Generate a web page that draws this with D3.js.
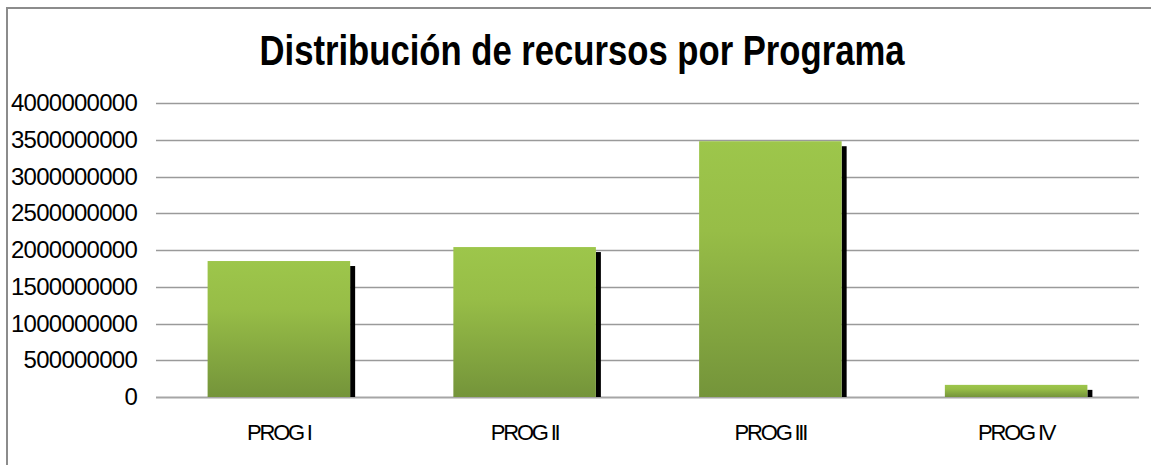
<!DOCTYPE html>
<html>
<head>
<meta charset="utf-8">
<script src="https://cdn.jsdelivr.net/npm/d3@7"></script>
<style>
  body { margin: 0; background: #fff; }
  text { font-family: "Liberation Sans", Arial, sans-serif; fill: #000; }
</style>
</head>
<body>
<div id="chart-area"></div>
<script>
// Data
var categories = ["PROG I", "PROG II", "PROG III", "PROG IV"];
var values = [1850000000, 2040000000, 3480000000, 165000000];
var yTicks = [0, 500000000, 1000000000, 1500000000, 2000000000, 2500000000, 3000000000, 3500000000, 4000000000];
var title = "Distribución de recursos por Programa";

barChart();
function barChart() {

    var W = 1151, H = 465;
    var margin = {top: 103, right: 12, bottom: 68, left: 156};
    var width = W - margin.left - margin.right,
        height = H - margin.top - margin.bottom;

    var root = d3.select("#chart-area").append("svg")
        .attr("width", W)
        .attr("height", H);

    // outer border (only top/left visible)
    root.append("rect")
        .attr("x", 7).attr("y", 8)
        .attr("width", W + 10).attr("height", H + 10)
        .attr("fill", "none")
        .attr("stroke", "#8c8c8c")
        .attr("stroke-width", 2);

    var defs = root.append("defs");
    var grad = defs.append("linearGradient")
        .attr("id", "barGrad")
        .attr("x1", 0).attr("y1", 0).attr("x2", 0).attr("y2", 1);
    grad.append("stop").attr("offset", "0%").attr("stop-color", "#9dc64b");
    grad.append("stop").attr("offset", "35%").attr("stop-color", "#97bd47");
    grad.append("stop").attr("offset", "100%").attr("stop-color", "#74943a");

    // title
    root.append("text")
        .attr("x", 582)
        .attr("y", 65)
        .attr("text-anchor", "middle")
        .attr("font-size", 42)
        .attr("font-weight", "bold")
        .attr("textLength", 645)
        .attr("lengthAdjust", "spacingAndGlyphs")
        .text(title);

    var svg = root.append("g")
        .attr("transform", "translate(" + margin.left + "," + margin.top + ")");

    // Scales
    var x = d3.scaleBand()
        .domain(categories)
        .range([0, width])
        .paddingInner(0.42)
        .paddingOuter(0.21);

    var y = d3.scaleLinear()
        .domain([0, 4000000000])
        .range([height, 0]);

    // gridlines
    svg.append("g")
        .attr("class", "grid")
        .selectAll("line")
        .data(yTicks)
        .enter().append("line")
        .attr("x1", 0)
        .attr("x2", width)
        .attr("y1", function(d) { return Math.round(y(d)) + 0.5; })
        .attr("y2", function(d) { return Math.round(y(d)) + 0.5; })
        .attr("stroke", function(d) { return d === 0 ? "#a6a6a6" : "#9a9a9a"; })
        .attr("stroke-width", function(d) { return d === 0 ? 2 : 1.3; });

    // y labels
    var yAxis = d3.axisLeft(y)
        .tickValues(yTicks)
        .tickSize(0)
        .tickPadding(19)
        .tickFormat(d3.format("d"));

    var yAxisGroup = svg.append("g")
        .attr("class", "y-axis axis")
        .call(yAxis);
    yAxisGroup.select(".domain").remove();
    yAxisGroup.selectAll("text")
        .attr("font-size", 24)
        .attr("letter-spacing", -0.75)
        .attr("fill", "#000")
        .attr("dy", "0.32em");

    // shadows
    svg.selectAll(".shadow")
        .data(values)
        .enter().append("rect")
        .attr("class", "shadow")
        .attr("x", function(d, i) { return x(categories[i]) + x.bandwidth(); })
        .attr("y", function(d) { return y(d) + 5; })
        .attr("width", 5)
        .attr("height", function(d) { return Math.max(0, height - y(d) - 5); })
        .attr("fill", "#000");

    // bars
    svg.selectAll(".bar")
        .data(values)
        .enter().append("rect")
        .attr("class", "bar")
        .attr("x", function(d, i) { return x(categories[i]); })
        .attr("y", function(d) { return y(d); })
        .attr("width", x.bandwidth())
        .attr("height", function(d) { return height - y(d); })
        .attr("fill", "url(#barGrad)");

    // x labels
    var xAxis = d3.axisBottom(x)
        .tickSize(0)
        .tickPadding(27);

    var xAxisGroup = svg.append("g")
        .attr("class", "x-axis axis")
        .attr("transform", "translate(0," + height + ")")
        .call(xAxis);
    xAxisGroup.select(".domain").remove();
    xAxisGroup.selectAll("text")
        .attr("font-size", 22)
        .attr("letter-spacing", -2.2)
        .attr("fill", "#000");
}
</script>
</body>
</html>
